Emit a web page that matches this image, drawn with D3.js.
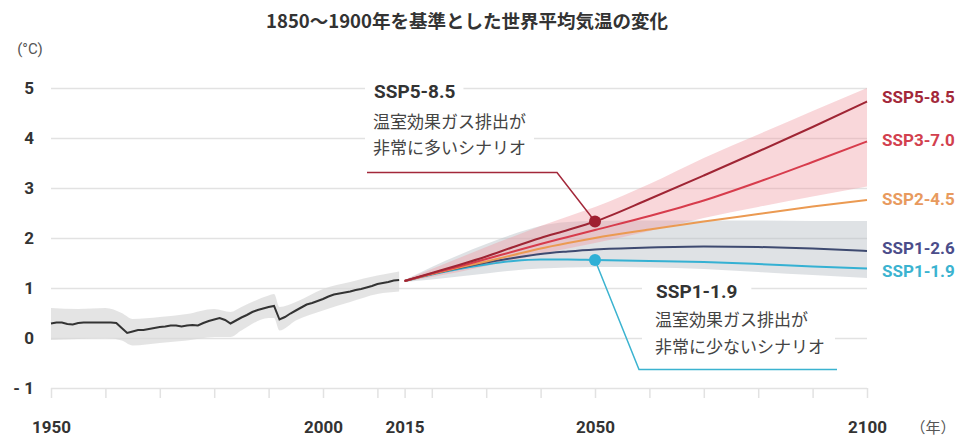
<!DOCTYPE html>
<html>
<head>
<meta charset="utf-8">
<script src="https://cdn.jsdelivr.net/npm/d3@7"></script>
<style>
  body { margin: 0; background: #fff; }
  svg { display: block; }
</style>
</head>
<body>
<div id="chart"></div>
<script>
const width = 960
const height = 438

// Dados
const title = "1850〜1900年を基準とした世界平均気温の変化"

const yTicks = [-1, 0, 1, 2, 3, 4, 5]
const xTicks = [1950, 1960, 1970, 1980, 1990, 2000, 2010, 2015, 2020, 2030, 2040, 2050, 2060, 2070, 2080, 2090, 2100]
const xLabels = [1950, 2000, 2015, 2050, 2100]

// historico (simulado)
const histYears = d3.range(1950, 2015)
const histValues = [
  0.29, 0.31, 0.31, 0.28, 0.27, 0.30, 0.31, 0.31, 0.31, 0.31,
  0.31, 0.31, 0.30, 0.20, 0.10, 0.13, 0.16, 0.16, 0.18, 0.20,
  0.22, 0.23, 0.25, 0.25, 0.23, 0.25, 0.26, 0.25, 0.30, 0.34,
  0.37, 0.40, 0.36, 0.29, 0.35, 0.41, 0.46, 0.52, 0.56, 0.59,
  0.62, 0.64, 0.37, 0.42, 0.49, 0.55, 0.61, 0.67, 0.70, 0.74,
  0.78, 0.83, 0.87, 0.89, 0.91, 0.93, 0.96, 0.98, 1.01, 1.04,
  1.08, 1.10, 1.12, 1.15, 1.16
]
const histBandYears = [1950, 1955, 1960, 1963, 1965, 1970, 1975, 1980, 1983, 1985, 1990, 1991, 1992, 1995, 2000, 2005, 2010, 2014]
const histBandLow = [-0.04, -0.02, 0.0, -0.05, -0.15, -0.10, -0.05, 0.02, 0.02, 0.15, 0.40, 0.40, 0.15, 0.35, 0.55, 0.72, 0.88, 0.93]
const histBandHigh = [0.60, 0.58, 0.60, 0.50, 0.38, 0.42, 0.48, 0.58, 0.52, 0.62, 0.85, 0.88, 0.62, 0.72, 0.98, 1.12, 1.25, 1.33]

// cenarios
const projYears = [2015, 2020, 2025, 2030, 2035, 2040, 2045, 2050, 2060, 2070, 2080, 2090, 2100]
const ssp585 = [1.14, 1.30, 1.46, 1.63, 1.82, 2.00, 2.16, 2.33, 2.78, 3.25, 3.73, 4.22, 4.73]
const ssp370 = [1.14, 1.29, 1.43, 1.58, 1.73, 1.88, 2.02, 2.16, 2.44, 2.75, 3.12, 3.52, 3.93]
const ssp245 = [1.14, 1.28, 1.41, 1.53, 1.66, 1.79, 1.90, 2.00, 2.17, 2.33, 2.48, 2.63, 2.76]
const ssp126 = [1.14, 1.28, 1.40, 1.51, 1.60, 1.68, 1.73, 1.77, 1.81, 1.83, 1.82, 1.79, 1.74]
const ssp119 = [1.14, 1.27, 1.38, 1.47, 1.54, 1.57, 1.57, 1.56, 1.54, 1.52, 1.48, 1.43, 1.39]

const redBandLow = [1.12, 1.22, 1.32, 1.44, 1.56, 1.68, 1.79, 1.90, 2.14, 2.40, 2.62, 2.83, 3.03]
const redBandHigh = [1.16, 1.38, 1.60, 1.82, 2.03, 2.24, 2.43, 2.62, 3.08, 3.60, 4.07, 4.54, 5.00]
const grayBandLow = [1.12, 1.17, 1.23, 1.29, 1.35, 1.39, 1.41, 1.42, 1.41, 1.38, 1.32, 1.26, 1.20]
const grayBandHigh = [1.16, 1.42, 1.66, 1.88, 2.08, 2.24, 2.32, 2.34, 2.35, 2.35, 2.35, 2.34, 2.34]

const scenarioNames = ["SSP5-8.5", "SSP3-7.0", "SSP2-4.5", "SSP1-2.6", "SSP1-1.9"]
const scenarioValues = [ssp585, ssp370, ssp245, ssp126, ssp119]
const lineColors = ["#9f2534", "#d73c4c", "#eb9a52", "#3e4a70", "#35b1d3"]
const labelColors = ["#a3283a", "#d2404e", "#e89a5e", "#4b4d8a", "#3bb3d0"]
const labelShift = [-5, -2, -1, -3, 2]

const annoHigh = ["SSP5-8.5", "温室効果ガス排出が", "非常に多いシナリオ"]
const annoLow = ["SSP1-1.9", "温室効果ガス排出が", "非常に少ないシナリオ"]

const jpFont = "'Noto Sans CJK JP', 'Noto Sans', sans-serif"
const numFont = "Roboto, 'Noto Sans', sans-serif"

// Container
const svg = d3.select("#chart")
  .append("svg")
  .attr("width", width)
  .attr("height", height)

// Escalas
const x = d3.scaleLinear().domain([1950, 2100]).range([51, 867])
const y = d3.scaleLinear().domain([-1, 5]).range([388, 88])

// Titulo
svg.append("text")
  .attr("x", 467)
  .attr("y", 28)
  .attr("text-anchor", "middle")
  .style("font-family", jpFont)
  .style("font-weight", 700)
  .style("font-size", "18.5px")
  .style("fill", "#333")
  .text(title)

svg.append("text")
  .attr("x", 30)
  .attr("y", 54)
  .attr("text-anchor", "middle")
  .style("font-family", numFont)
  .style("font-size", "15px")
  .style("fill", "#555")
  .text("(°C)")

svg.append("text")
  .attr("x", 933)
  .attr("y", 433)
  .attr("text-anchor", "middle")
  .style("font-family", jpFont)
  .style("font-size", "15px")
  .style("fill", "#555")
  .text("（年）")

// Eixo y + grade
const yAxis = svg.append("g")
  .attr("transform", `translate(${x(1950)},0)`)
  .call(d3.axisLeft(y)
    .tickValues(yTicks)
    .tickSize(-(x(2100) - x(1950)))
    .tickPadding(17)
    .tickFormat(d => d < 0 ? "- " + Math.abs(d) : d))
yAxis.select(".domain").remove()
yAxis.selectAll("line").attr("stroke", "#e2e2e2").attr("stroke-width", 1.5)
yAxis.selectAll("text")
  .style("font-family", numFont)
  .style("font-weight", 700)
  .style("font-size", "17px")
  .style("fill", "#333")

// Eixo x
const xAxis = svg.append("g")
  .attr("transform", `translate(0,${y(-1)})`)
  .call(d3.axisBottom(x)
    .tickValues(xTicks)
    .tickSize(10)
    .tickPadding(23)
    .tickFormat(d => xLabels.includes(d) ? d : ""))
xAxis.select(".domain").remove()
xAxis.selectAll("line").attr("stroke", "#e2e2e2").attr("stroke-width", 1.5)
xAxis.selectAll("text")
  .style("font-family", numFont)
  .style("font-weight", 700)
  .style("font-size", "17px")
  .style("fill", "#333")

// Faixas
const area = (years, lo, hi) => d3.area()
  .x((d, i) => x(years[i]))
  .y0((d, i) => y(lo[i]))
  .y1((d, i) => y(hi[i]))
  .curve(d3.curveMonotoneX)(years)

svg.append("path")
  .attr("d", area(histBandYears, histBandLow, histBandHigh))
  .style("fill", "#d8d8d8")
  .style("opacity", 0.7)

svg.append("path")
  .attr("d", area(projYears, grayBandLow, grayBandHigh))
  .style("fill", "#b9bec6")
  .style("opacity", 0.45)

svg.append("path")
  .attr("d", area(projYears, redBandLow, redBandHigh))
  .style("fill", "#ef9aa3")
  .style("opacity", 0.4)

// Linha historica
const histLine = d3.line()
  .x((d, i) => x(histYears[i]))
  .y(d => y(d))
svg.append("path")
  .datum(histValues)
  .attr("d", histLine)
  .style("fill", "none")
  .style("stroke", "#333")
  .style("stroke-width", 2)

// Cenarios
const projLine = d3.line()
  .x((d, i) => x(projYears[i]))
  .y(d => y(d))
  .curve(d3.curveMonotoneX)

// ordem de desenho: de baixo para cima
for (let k = scenarioValues.length - 1; k >= 0; k--) {
  svg.append("path")
    .datum(scenarioValues[k])
    .attr("d", projLine)
    .style("fill", "none")
    .style("stroke", lineColors[k])
    .style("stroke-width", 2)
}

scenarioNames.forEach((name, k) => {
  const last = scenarioValues[k][scenarioValues[k].length - 1]
  svg.append("text")
    .attr("x", 882)
    .attr("y", y(last) + labelShift[k] + 6)
    .style("font-family", numFont)
    .style("font-weight", 700)
    .style("font-size", "17px")
    .style("fill", labelColors[k])
    .text(name)
})

// Anotacoes com fundo branco (cortam a grade)
let textWithBg = (g, tx, ty, str, size, weight, padL, padR) => {
  const t = g.append("text")
    .attr("x", tx)
    .attr("y", ty)
    .style("font-family", weight > 400 ? numFont : jpFont)
    .style("font-weight", weight)
    .style("font-size", size + "px")
    .style("fill", weight > 400 ? "#333" : "#444")
    .text(str)
  const b = t.node().getBBox()
  g.insert("rect", "text")
    .attr("x", b.x - padL)
    .attr("y", b.y)
    .attr("width", b.width + padL + padR)
    .attr("height", b.height)
    .style("fill", "#fff")
}

// SSP5-8.5
const hi = svg.append("g")
textWithBg(hi, 374, 98, annoHigh[0], 19, 700, 9, 8)
textWithBg(hi, 373, 128, annoHigh[1], 17, 400, 8, 8)
textWithBg(hi, 373, 154, annoHigh[2], 17, 400, 8, 8)

// SSP1-1.9
const lo = svg.append("g")
textWithBg(lo, 656, 298, annoLow[0], 19, 700, 14, 14)
textWithBg(lo, 655, 326, annoLow[1], 17, 400, 13, 10)
textWithBg(lo, 655, 353, annoLow[2], 17, 400, 13, 10)

// Linhas de chamada
const dotHigh = [x(2050), y(ssp585[projYears.indexOf(2050)])]
const dotLow = [x(2050), y(ssp119[projYears.indexOf(2050)])]

svg.append("path")
  .attr("d", d3.line()([[367, 172.5], [557, 172.5], dotHigh]))
  .style("fill", "none")
  .style("stroke", "#a3283a")
  .style("stroke-width", 1.5)

svg.append("path")
  .attr("d", d3.line()([dotLow, [639, 369.5], [837, 369.5]]))
  .style("fill", "none")
  .style("stroke", "#3bb3d0")
  .style("stroke-width", 1.5)

svg.append("circle")
  .attr("cx", dotHigh[0]).attr("cy", dotHigh[1]).attr("r", 6)
  .style("fill", "#9f1f30")
svg.append("circle")
  .attr("cx", dotLow[0]).attr("cy", dotLow[1]).attr("r", 6)
  .style("fill", "#2fb0d6")
</script>
</body>
</html>
